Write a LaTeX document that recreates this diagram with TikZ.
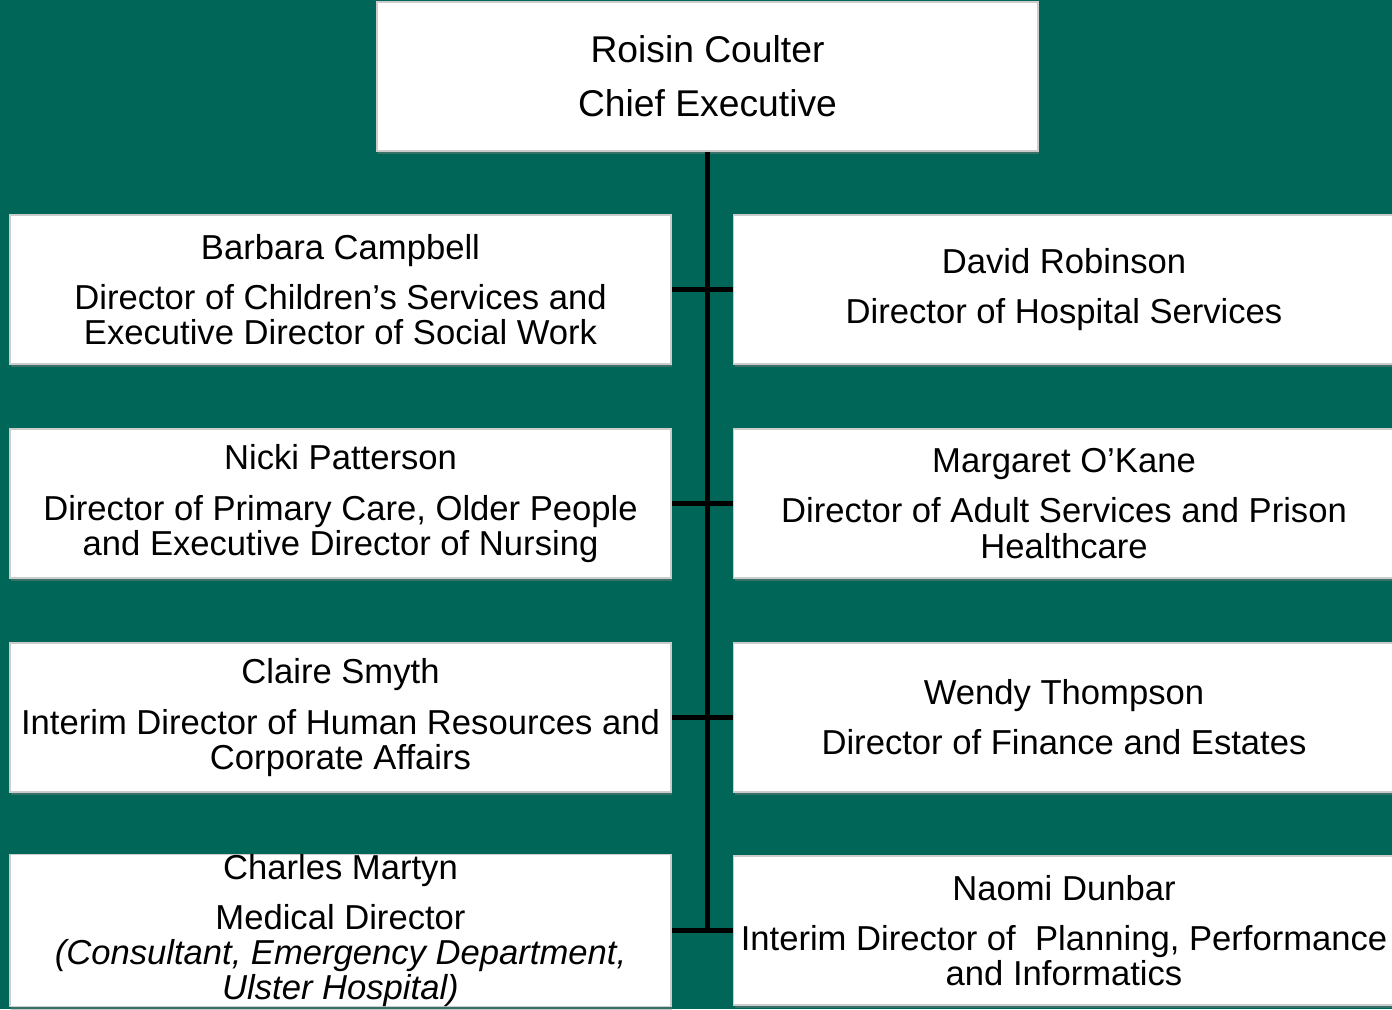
\documentclass[tikz,border=0pt]{standalone}
\usepackage{fontspec}
\setmainfont{Liberation Sans}
\usetikzlibrary{shadows}
\definecolor{trustgreen}{RGB}{0,102,87}
\begin{document}
\begin{tikzpicture}[
    post/.style={draw=gray!40, line width=0.4pt, fill=white,
      minimum width=6.61cm, minimum height=1.49cm, inner sep=0pt,
      align=center, font=\fontsize{9.85}{9.96}\selectfont,
      drop shadow={shadow xshift=0.4pt, shadow yshift=-0.9pt, opacity=0.45}},
    link/.style={line width=0.055cm}
  ]
  \useasboundingbox (0,0) rectangle (13.92,-10.09);
  \fill[trustgreen] (0,0) rectangle (13.92,-10.09);
  \node[post, font=\fontsize{10.6}{15.4}\selectfont] (ceo) at (7.075,-0.765)
    {Roisin Coulter\\Chief Executive};
  \node[post] (l1) at (3.405,-2.895)
    {Barbara Campbell\\[4.3pt]Director of Children’s Services and\\Executive Director of Social Work};
  \node[post] (r1) at (10.64,-2.895)
    {David Robinson\\[4.3pt]Director of Hospital Services};
  \node[post] (l2) at (3.405,-5.035)
    {Nicki Patterson\\[4.3pt]Director of Primary Care, Older People\\and Executive Director of Nursing};
  \node[post] (r2) at (10.64,-5.035)
    {Margaret O’Kane\\[4.3pt]Director of Adult Services and Prison\\Healthcare};
  \node[post] (l3) at (3.405,-7.175)
    {Claire Smyth\\[4.3pt]Interim Director of Human Resources and\\Corporate Affairs};
  \node[post] (r3) at (10.64,-7.175)
    {Wendy Thompson\\[4.3pt]Director of Finance and Estates};
  \node[post] (l4) at (3.405,-9.305)
    {Charles Martyn\\[4.3pt]Medical Director\\\textit{(Consultant, Emergency Department,}\\\textit{Ulster Hospital)}};
  \node[post] (r4) at (10.64,-9.305)
    {Naomi Dunbar\\[4.3pt]Interim Director of~ Planning, Performance\\and Informatics};
  \draw[link] (ceo.south) -- (ceo.south |- l4.east);
  \foreach \i in {1,...,4}
    \draw[link] (l\i.east) -- (r\i.west);
\end{tikzpicture}
\end{document}
